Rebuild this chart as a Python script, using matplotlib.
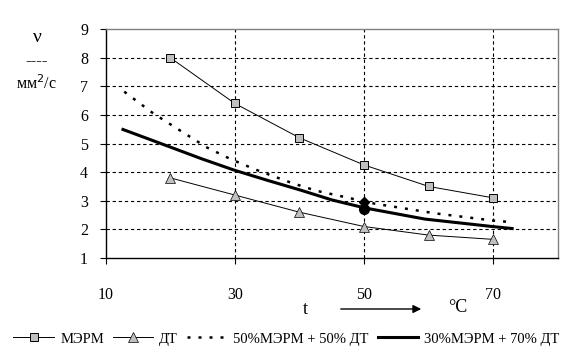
import matplotlib
matplotlib.use("Agg")
import matplotlib.pyplot as plt

plt.rcParams['font.family'] = ['Liberation Serif', 'DejaVu Serif']

# Data
t_points = [20, 30, 40, 50, 60, 70]
merm = [8.0, 6.4, 5.2, 4.25, 3.5, 3.1]
dt = [3.8, 3.2, 2.6, 2.1, 1.8, 1.65]

# trend lines
mix50_t = [12.9, 17.4, 22.4, 25.7, 29.4, 33.2, 38.7, 42.6, 51.6, 61.0, 70.6, 72.6]
mix50_v = [6.81, 6.05, 5.33, 4.86, 4.45, 4.09, 3.63, 3.35, 2.90, 2.56, 2.29, 2.26]
mix30_t = [12.7, 19.5, 24.7, 29.9, 35.1, 40.2, 45.0, 50.1, 59.4, 69.8, 72.9]
mix30_v = [5.49, 4.92, 4.48, 4.07, 3.71, 3.37, 3.03, 2.75, 2.36, 2.10, 2.03]
mix50_pt = (50, 2.96)
mix30_pt = (50, 2.71)

xticks = [10, 30, 50, 70]
yticks = [1, 2, 3, 4, 5, 6, 7, 8, 9]

fig = plt.figure(figsize=(5.73, 3.58), dpi=100)
ax = fig.add_axes([105.5/573, 1-258/358, (558-105.5)/573, (258-29)/358])
ax.set_xlim(10, 80)
ax.set_ylim(1, 9)

for yv in yticks[1:-1]:
    ax.axhline(yv, color='black', lw=0.8, ls=(0, (3, 2.5)), zorder=1)
for xv in xticks[1:]:
    ax.axvline(xv, color='black', lw=0.8, ls=(0, (3, 2.5)), zorder=1)

l1, = ax.plot(t_points, merm, color='black', lw=0.7, marker='s', ms=6,
              mfc='#c0c0c0', mec='black', mew=0.7, zorder=3)
l2, = ax.plot(t_points, dt, color='black', lw=0.7, marker='^', ms=6.5,
              mfc='#c0c0c0', mec='black', mew=0.5, zorder=3)
l3, = ax.plot(mix50_t, mix50_v, color='black', lw=1.8, ls=(0, (1.2, 3.2)), zorder=3)
l4, = ax.plot(mix30_t, mix30_v, color='black', lw=2.2, zorder=3)
ax.plot(*mix50_pt, marker='D', ms=5.5, color='black', zorder=4)
ax.plot(*mix30_pt, marker='o', ms=7, color='black', zorder=4)

ax.set_xticks(xticks)
ax.set_yticks(yticks)
ax.tick_params(axis='x', direction='out', length=4, pad=17, labelsize=11.5)
ax.tick_params(axis='y', direction='out', length=4.5, pad=8, labelsize=11.5)
for s in ['top', 'right']:
    ax.spines[s].set_color('#808080')
    ax.spines[s].set_linewidth(1.0)
for s in ['left', 'bottom']:
    ax.spines[s].set_color('black')
    ax.spines[s].set_linewidth(1.0)

fig.text(37/573, 1-38/358, 'ν', ha='center', va='center', fontsize=14)
fig.text(37/573, 1-61/358, '----', ha='center', va='center', fontsize=12)
fig.text(37/573, 1-84/358, 'мм$^{2}$/с', ha='center', va='center', fontsize=11.5)

fig.text(305/573, 1-309/358, 't', ha='center', va='center', fontsize=13)
fig.text(458/573, 1-307/358, '°C', ha='center', va='center', fontsize=13)
fig.add_artist(matplotlib.patches.FancyArrowPatch(
    (338/573, 1-309/358), (424/573, 1-309/358), transform=fig.transFigure,
    arrowstyle='-|>', mutation_scale=12, color='black', lw=1.0))

leg = fig.legend([l1, l2, l3, l4],
                 ['МЭРМ', 'ДТ', '50%МЭРМ + 50% ДТ', '30%МЭРМ + 70% ДТ'],
                 loc='center', bbox_to_anchor=(0.5, 1-339/358), ncol=4,
                 frameon=False, fontsize=10.5, handlelength=2.8,
                 handletextpad=0.4, columnspacing=0.6, borderaxespad=0)

fig.savefig('out.png', dpi=100)
